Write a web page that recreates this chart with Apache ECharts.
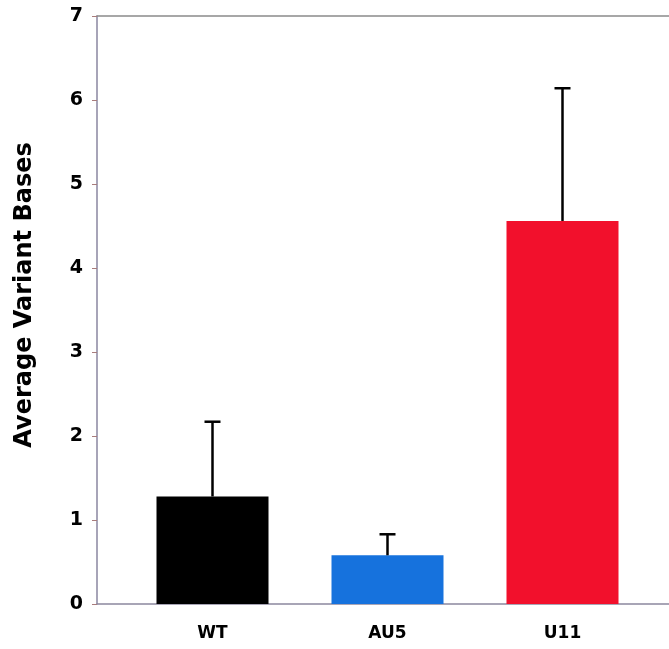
<!DOCTYPE html>
<html lang="en">
<head>
    <meta charset="UTF-8" />
    <title>Average Variant Bases</title>
    <script src="https://cdn.jsdelivr.net/npm/echarts@6/dist/echarts.min.js"></script>
    <style>
        html, body { margin: 0; padding: 0; background: #fff; }
    </style>
</head>
<body>
    <div id="main" style="width: 669px; height: 649px"></div>
    <script>
        // data
        var categories = ["WT", "AU5", "U11"];
        var means = [1.28, 0.58, 4.56];
        var errUpper = [2.17, 0.83, 6.14];
        var barColors = ["#000000", "#1672dd", "#f2102c"];
        var yTicks = [0, 1, 2, 3, 4, 5, 6, 7];

        var font = "DejaVu Sans";
        var myChart = echarts.init(document.getElementById("main"));

        var option = {
            animation: false,
            grid: [
                // frame + y axis
                { left: 97, right: 0, top: 16, bottom: 45 },
                // bars
                { left: 125, width: 525, top: 16, bottom: 45 }
            ],
            xAxis: [
                {
                    gridIndex: 0, type: "category", data: [""],
                    axisLine: { lineStyle: { color: "#8c889e", width: 1.5 } },
                    axisTick: { show: false }, axisLabel: { show: false }
                },
                {
                    gridIndex: 0, type: "category", data: [""], position: "top",
                    axisLine: { lineStyle: { color: "#8a8a8a", width: 1.5 } },
                    axisTick: { show: false }, axisLabel: { show: false }
                },
                {
                    gridIndex: 1, type: "category", data: categories,
                    axisLine: { show: false }, axisTick: { show: false },
                    axisLabel: {
                        color: "#000", fontFamily: font, fontWeight: "bold",
                        fontSize: 17, margin: 21
                    }
                }
            ],
            yAxis: [
                {
                    gridIndex: 0, type: "value", min: 0, max: 7, interval: 1,
                    splitLine: { show: false },
                    axisLine: { show: true, lineStyle: { color: "#8a86a0", width: 1.5 } },
                    axisTick: { show: true, length: 5, lineStyle: { color: "#a87c7c" } },
                    axisLabel: {
                        color: "#000", fontFamily: font, fontWeight: "bold",
                        fontSize: 19, margin: 14,
                        formatter: function (v) { return yTicks.indexOf(v) >= 0 ? String(v) : ""; }
                    },
                    name: "Average Variant Bases",
                    nameLocation: "middle",
                    nameGap: 60,
                    nameTextStyle: {
                        color: "#000", fontFamily: font, fontWeight: "bold",
                        fontSize: 24, padding: [0, 0, 0, 30]
                    }
                },
                {
                    gridIndex: 1, type: "value", min: 0, max: 7, show: false
                }
            ],
            series: [
                {
                    type: "bar",
                    xAxisIndex: 2, yAxisIndex: 1,
                    barWidth: 112,
                    data: means.map(function (v, i) {
                        return { value: v, itemStyle: { color: barColors[i] } };
                    })
                },
                {
                    // upper error bars
                    type: "custom",
                    xAxisIndex: 2, yAxisIndex: 1,
                    z: 5,
                    data: categories.map(function (c, i) { return [i, means[i], errUpper[i]]; }),
                    renderItem: function (params, api) {
                        var base = api.coord([api.value(0), api.value(1)]);
                        var top = api.coord([api.value(0), api.value(2)]);
                        var style = { stroke: "#000", lineWidth: 2.5 };
                        return {
                            type: "group",
                            children: [
                                { type: "line", shape: { x1: base[0], y1: base[1], x2: top[0], y2: top[1] }, style: style },
                                { type: "line", shape: { x1: top[0] - 8, y1: top[1], x2: top[0] + 8, y2: top[1] }, style: style }
                            ]
                        };
                    }
                }
            ]
        };

        myChart.setOption(option);
    </script>
</body>
</html>
